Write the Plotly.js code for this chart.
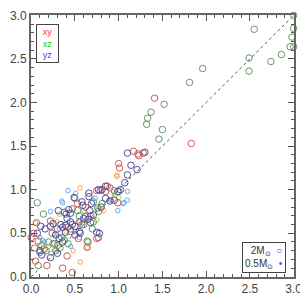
<!DOCTYPE html>
<html><head><meta charset="utf-8">
<script src="https://cdn.plot.ly/plotly-3.0.1.min.js"></script>
<style>html,body{margin:0;padding:0;background:#fff;}#plot{width:300px;height:300px;}</style>
</head><body><div id="plot"></div>
<script>
// 2 Msun, xy projection (red)
const xy2_x = [1.41,1.83,1.17,1.22,1.23,1.28,1.00,1.01,0.75,0.79,0.87,0.90,0.99,0.53,0.47,0.62,0.22,0.42,0.55,0.03,0.00,0.24,0.45,0.54,0.75,0.77,0.64,0.04,0.15,0.41,0.05,0.18,0.36,0.47,0.08,0.30,0.68,0.58,0.85,0.06,0.27];
const xy2_y = [2.05,1.53,1.44,1.41,1.39,1.42,1.30,1.25,0.99,0.99,1.04,1.02,0.85,0.84,0.78,0.80,0.64,0.57,0.63,0.50,0.45,0.50,0.52,0.44,0.44,0.45,0.34,0.33,0.32,0.24,0.18,0.13,0.10,0.05,0.41,0.55,0.70,0.60,0.98,0.62,0.38];
// 2 Msun, xz projection (green)
const xz2_x = [2.55,3.00,3.00,2.98,2.96,3.00,2.86,2.74,2.49,2.49,1.96,1.81,1.52,1.37,1.33,1.32,1.50,1.46,1.00,0.95,0.07,0.14,0.53,0.76,0.77,0.81,0.71,0.71,0.70,0.65,0.64,0.08,0.20,0.25,0.30,0.33,0.38,0.17,0.12,0.50,0.45,0.60,0.35,0.55,0.10,0.28,0.42];
const xz2_y = [2.84,3.00,2.85,2.75,2.64,2.64,2.55,2.47,2.51,2.36,2.39,2.23,1.98,1.89,1.82,1.75,1.69,1.58,0.98,0.99,0.85,0.72,0.76,0.79,0.75,0.84,0.86,0.63,0.55,0.40,0.41,0.13,0.40,0.38,0.36,0.33,0.42,0.30,0.36,0.90,0.55,0.60,0.45,0.70,0.28,0.30,0.38];
// 2 Msun, yz projection (navy)
const yz2_x = [1.10,1.30,1.14,1.21,1.10,1.07,0.85,0.81,0.77,0.66,0.66,0.99,0.90,0.49,0.58,0.59,0.69,0.31,0.38,0.40,0.43,0.45,0.67,0.71,0.11,0.22,0.34,0.36,0.39,0.45,0.47,0.62,0.65,0.68,0.75,0.78,0.07,0.39,0.50,0.56,0.28,0.32,0.36,0.10,0.12,0.22,0.30,0.50,0.55,0.80,0.85,0.95,1.02,0.60,0.41,0.25,0.16];
const yz2_y = [1.42,1.43,1.28,1.23,1.17,1.08,1.04,1.00,1.00,0.96,0.92,0.98,0.87,0.91,0.86,0.82,0.84,0.76,0.74,0.72,0.77,0.73,0.76,0.71,0.58,0.58,0.60,0.57,0.59,0.63,0.60,0.69,0.66,0.62,0.51,0.50,0.50,0.51,0.48,0.50,0.48,0.44,0.40,0.30,0.25,0.22,0.27,0.58,0.52,0.80,0.90,0.88,1.00,0.67,0.67,0.61,0.55];
// 0.5 Msun, xy (orange)
const xy05_x = [0.98,0.98,0.56,0.83,0.29,0.64,0.56,0.05,0.10,0.23,0.80,0.48,0.92];
const xy05_y = [1.17,1.15,1.02,0.76,0.63,0.33,0.17,0.62,0.35,0.27,0.78,0.30,0.88];
// 0.5 Msun, xz (yellow-green)
const xz05_x = [1.00,0.32,0.60,0.75,0.20,0.28,0.40,0.76,0.95,0.15,0.55];
const xz05_y = [0.91,0.72,0.76,0.65,0.35,0.30,0.52,0.78,0.95,0.30,0.45];
// 0.5 Msun, yz (light blue)
const yz05_x = [0.42,0.51,0.35,0.36,1.06,0.99,1.10,1.10,0.22,0.55,0.59,0.10,0.13,0.15,0.27,0.90,1.05,0.32,0.73,0.45];
const yz05_y = [0.99,0.96,0.87,0.85,0.85,0.76,0.98,0.88,0.75,0.63,0.62,0.45,0.42,0.40,0.49,0.88,0.84,0.55,0.90,0.35];
const diag = [0, 3];
const tickVals = [0, 0.5, 1, 1.5, 2, 2.5, 3];
const tickText = ['0.0','0.5','1.0','1.5','2.0','2.5','3.0'];

function mk(x,y,c,s){return {x:x,y:y,mode:'markers',type:'scatter',cliponaxis:false,marker:{symbol:'circle-open',size:s,color:c,line:{width:1,color:c}},hoverinfo:'none'};}

const traces = [
  {x:diag,y:diag,mode:'lines',type:'scatter',line:{color:'#555',width:1,dash:'dot'},hoverinfo:'none'},
  mk(xy05_x,xy05_y,'rgb(250,160,90)',4.5),
  mk(xz05_x,xz05_y,'rgb(175,205,80)',4.5),
  mk(yz05_x,yz05_y,'rgb(100,175,245)',4.5),
  mk(xy2_x,xy2_y,'rgb(200,95,95)',6.5),
  mk(xz2_x,xz2_y,'rgb(100,155,100)',6.5),
  mk(yz2_x,yz2_y,'rgb(80,80,155)',6.5)
];
const ax = {range:[-0.002,3.004],tickmode:'array',tickvals:tickVals,ticktext:tickText,ticks:'inside',ticklen:6,tickwidth:1,tickcolor:'#555',
  mirror:'allticks',showline:true,linecolor:'#666',linewidth:2,showgrid:false,zeroline:false,ticklabeloverflow:'allow',
  minor:{dtick:0.1,tick0:0,ticks:'inside',ticklen:3,tickcolor:'#555',tickwidth:1},
  tickfont:{family:'Liberation Sans, Arial, sans-serif',size:12,color:'#444'}};
const layout = {
  width:300,height:300,margin:{l:31,r:6,t:15,b:23},showlegend:false,
  paper_bgcolor:'#fff',plot_bgcolor:'#fff',
  xaxis:Object.assign({},ax),yaxis:Object.assign({},ax),
  annotations:[
    {xref:'paper',yref:'paper',x:(36-31)/263,y:1-(24-15)/262,xanchor:'left',yanchor:'top',showarrow:false,align:'center',
     text:'<span style="color:rgb(255,50,50)">xy</span><br><span style="color:rgb(0,220,0)">xz</span><br><span style="color:rgb(70,60,255)">yz</span>',
     font:{family:'Liberation Sans, Arial, sans-serif',size:9},bordercolor:'#444',borderwidth:1,borderpad:2,bgcolor:'#fff',width:17},
    {xref:'paper',yref:'paper',x:(286-31)/263,y:1-(242-15)/262,xanchor:'right',yanchor:'top',showarrow:false,align:'right',
     text:'2M<sub>⊙</sub>  <span style="color:rgb(80,80,230)">○</span><br>0.5M<sub>⊙</sub>  <span style="color:rgb(80,80,230)">•</span>',
     font:{family:'Liberation Sans, Arial, sans-serif',size:10,color:'#333'},bordercolor:'#444',borderwidth:1,borderpad:2,bgcolor:'#fff'}
  ]
};
Plotly.newPlot('plot',traces,layout,{staticPlot:true,displayModeBar:false});
</script></body></html>
